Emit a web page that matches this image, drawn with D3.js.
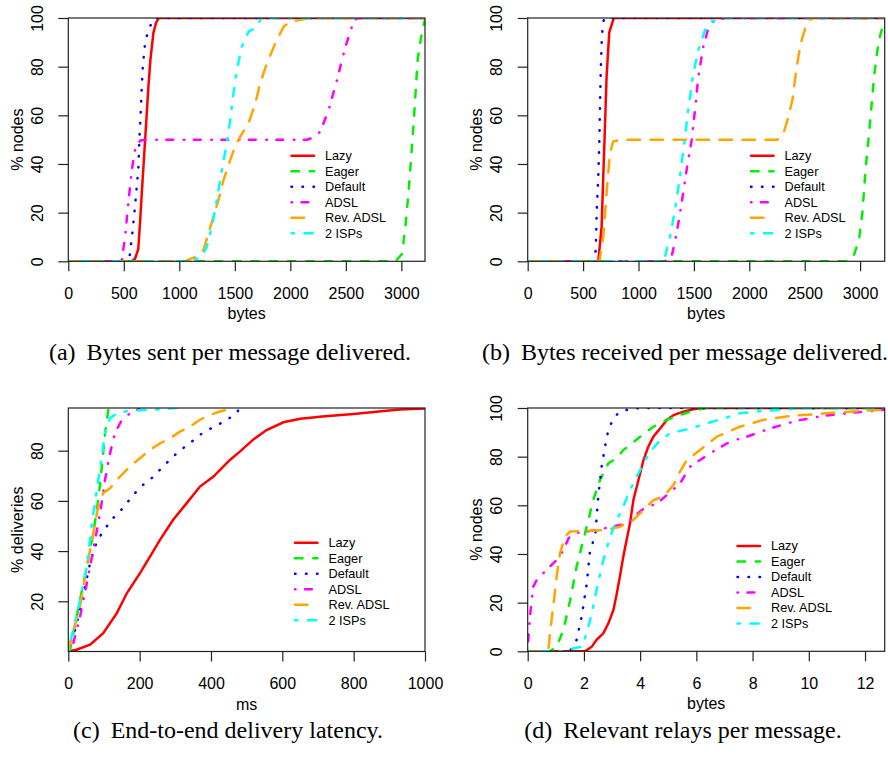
<!DOCTYPE html>
<html>
<head>
<meta charset="utf-8">
<script src="https://cdn.jsdelivr.net/npm/d3@7"></script>
<style>
  body { margin: 0; background: #fff; }
  svg text { font-family: "Liberation Sans", Arial, Helvetica, sans-serif; fill: #000; }
  svg text.caption { font-family: "Liberation Serif", "Times New Roman", serif; }
</style>
</head>
<body>
<svg id="chart" width="888" height="757"></svg>
<script>
// series order used by every panel
const seriesNames = ["Lazy", "Eager", "Default", "ADSL", "Rev. ADSL", "2 ISPs"];

// (a) bytes sent per message delivered, [bytes, % nodes]
const sentLazy = [[0,0],[570,0],[600,1],[630,5],[645,15],[662,28],[692,50],[722,72],[740,83],[767,94],[790,98],[815,100],[3220,100]];
const sentEager = [[0,0],[2946,0],[3006,3],[3036,14],[3066,29],[3087,42],[3111,57],[3129,70],[3147,83],[3177,92],[3213,99.5]];
const sentDefault = [[0,0],[530,0],[550,1],[580,13],[610,27],[632,39],[640,50],[652,61],[662,72],[671,80],[692,90],[722,95],[761,99],[780,100],[3220,100]];
const sentAdsl = [[0,0],[481,0],[511,10],[541,24],[572,37.5],[601,45.7],[647,49.6],[700,50],[2149,50],[2220,51],[2269,53.3],[2344,62],[2420,74.5],[2495,88],[2564,97.8],[2600,100],[3220,100]];
const sentRevAdsl = [[0,0],[1052,0],[1100,1],[1158,1.9],[1217,4.6],[1262,11.5],[1307,18.3],[1353,25.2],[1398,33.4],[1458,41.6],[1503,47.1],[1548,51.2],[1623,56.7],[1684,64.9],[1729,73.2],[1789,81.4],[1864,89.6],[1939,96.4],[1999,98.5],[2119,99.5],[2200,100],[3220,100]];
const sentIsps = [[0,0],[1007,0],[1127,0.5],[1203,1.9],[1248,6],[1293,14.2],[1338,25.2],[1383,37.5],[1428,48.5],[1458,58],[1488,69],[1518,78.6],[1563,88.2],[1623,94.4],[1684,95.8],[1729,99.2],[1744,100],[3220,100]];

// (b) bytes received per message delivered
const recvLazy = [[0,0],[637,0],[667,14],[682,35],[697,55],[712,76],[736,94],[773,99.5],[780,100],[3230,100]];
const recvEager = [[0,0],[2885,0],[2939,1.9],[2990,8.8],[3020,19.7],[3051,38.9],[3081,52.6],[3102,63.6],[3126,75.9],[3156,86.8],[3186,93.7],[3222,99.2]];
const recvDefault = [[0,0],[607,0],[616,7.4],[623,21],[637,34.8],[646,48.5],[652,62.2],[658,75.9],[667,89.6],[676,96.4],[688,99.5],[692,100],[3230,100]];
const recvAdsl = [[0,0],[1239,0],[1299,1.9],[1344,11.5],[1389,23.8],[1434,37.5],[1480,49.9],[1510,62.2],[1540,75.9],[1585,88.2],[1630,95.8],[1675,98.5],[1735,99.5],[1780,100],[3230,100]];
const recvRevAdsl = [[0,0],[647,0],[682,10],[712,28],[742,44.4],[772,49.2],[832,50],[2253,50],[2290,51.5],[2313,53.3],[2344,58],[2389,66.3],[2428,80],[2464,89.6],[2509,96.4],[2554,99.6],[2580,100],[3230,100]];
const recvIsps = [[0,0],[1179,0],[1239,1.9],[1284,10],[1329,21],[1374,34.8],[1413,48.5],[1449,62.2],[1489,75.9],[1540,86.8],[1600,95],[1660,98.5],[1720,99.6],[1750,100],[3230,100]];

// (c) end-to-end delivery latency, [ms, % deliveries]
const latLazy = [[0,0],[23,0.7],[61,2.7],[98,7.3],[136,15.3],[164,23.2],[201,31.2],[229,37.8],[257,44.5],[294,52.5],[332,59.1],[369,65.7],[407,69.7],[453,76.3],[481,79.6],[519,84.5],[556,88.2],[603,91.3],[650,92.7],[720,93.7],[800,94.6],[870,95.6],[930,96.4],[1000,96.8]];
const latEager = [[0,0],[5,0.7],[33,20.6],[52,33.8],[70,47.1],[84,60.4],[94,73.7],[103,87],[112,96.2],[116,97]];
const latDefault = [[0,0],[5,3.3],[19,8.6],[33,16.6],[47,25.9],[61,35.2],[75,41.9],[89,45.9],[108,49.9],[126,53.2],[145,55.8],[168,59.8],[187,63.1],[210,66.4],[229,68.4],[252,71.7],[275,75],[299,78.3],[322,81],[346,83.6],[369,86.3],[392,88.3],[420,90.3],[444,92.3],[472,94.9],[480,97]];
const latAdsl = [[0,0],[14,3.3],[33,13.9],[52,27.2],[70,40.5],[89,55],[103,68.4],[117,79],[131,87],[150,92.3],[173,94.9],[190,96],[200,97]];
const latRevAdsl = [[0,0],[5,3.3],[33,18],[52,33.8],[70,47.1],[84,57.8],[98,63.1],[117,65],[145,69.7],[173,73.7],[201,77],[229,80.3],[257,82.9],[285,84.9],[313,87.6],[341,89.6],[369,92.3],[397,94.3],[425,95.6],[453,96.6],[463,97]];
const latIsps = [[0,0],[5,3.3],[33,20.6],[52,33.8],[65,49.8],[80,64.4],[94,77.7],[103,87],[117,92.9],[136,94.9],[164,95.7],[210,96.2],[260,96.5],[304,97]];

// (d) relevant relays per message, [relays, % nodes]
const relayLazy = [[0,0],[2.04,0],[2.28,1.9],[2.45,4.7],[2.69,7.4],[2.87,11.5],[3.05,17],[3.17,23.8],[3.28,30.7],[3.4,38.9],[3.52,45.8],[3.64,52.6],[3.76,62.2],[3.94,70.4],[4.12,78.6],[4.29,84.1],[4.47,88.2],[4.71,91.6],[4.95,95.1],[5.19,97.1],[5.54,98.5],[5.89,99.5],[6.2,100],[12.7,100]];
const relayEager = [[0,0],[0.8,0],[1.03,1.9],[1.27,8.8],[1.51,21],[1.74,34.8],[1.98,45.8],[2.16,54],[2.33,62.2],[2.57,70.4],[2.87,77.3],[3.17,79.3],[3.4,82.7],[3.64,84.8],[4,88.2],[4.47,92.3],[4.95,95.1],[5.42,97.1],[5.89,98.9],[6.13,99.5],[6.4,100],[12.7,100]];
const relayDefault = [[0,0],[1.5,0],[1.74,4.7],[1.92,14.2],[2.1,27.9],[2.22,41.6],[2.4,47.5],[2.42,50],[2.51,63.6],[2.63,75.9],[2.75,84.1],[2.87,91],[3.05,95.8],[3.28,98.5],[3.64,99.5],[4,100],[12.7,100]];
const relayAdsl = [[0,0],[0.02,4.7],[0.08,14.2],[0.14,21],[0.2,26.6],[0.38,30.7],[0.62,32.7],[0.85,35.5],[1.09,38.2],[1.27,41.6],[1.45,46.4],[1.62,48.5],[2.1,49.2],[2.7,50.5],[3.28,51.9],[3.6,52.5],[3.78,55.3],[4.14,58.8],[4.61,60.8],[5.09,65.6],[5.42,69],[5.78,75.9],[6.49,81.4],[7.2,86.2],[7.79,88.2],[8.62,91.6],[9.57,94.8],[10.5,96.7],[11.6,98.1],[12.7,99.3]];
const relayRevAdsl = [[0,0],[0.68,0],[0.75,1.9],[0.79,7.4],[0.91,18.4],[1.03,30.7],[1.15,40.3],[1.33,47.1],[1.51,49.2],[2.1,49.5],[2.81,49.9],[3.28,51.2],[3.76,54],[4.12,58.1],[4.48,62.2],[4.83,63.6],[5.19,68.4],[5.42,73.9],[5.66,78.6],[6.13,82.7],[6.72,88.2],[7.55,92.3],[8.38,95.1],[9.33,96.7],[10.6,97.8],[11.7,98.7],[12.7,99.4]];
const relayIsps = [[0,0],[1.27,0],[1.62,1.2],[1.92,1.9],[2.1,7.4],[2.28,15.6],[2.45,25.2],[2.69,37.5],[2.93,47.1],[3.17,54],[3.4,59.5],[3.64,66.3],[3.94,73.2],[4.18,78.6],[4.41,82.7],[4.71,86.8],[5.07,89.6],[5.42,90.6],[5.78,91.5],[6.37,93.7],[6.96,95.7],[7.55,97.8],[8.38,98.8],[9.33,99.5],[10,100],[12.7,100]];

// tick labels
const bytesTicks = [0, 500, 1000, 1500, 2000, 2500, 3000];
const pctTicks = [0, 20, 40, 60, 80, 100];
const msTicks = [0, 200, 400, 600, 800, 1000];
const deliveryTicks = [20, 40, 60, 80];
const relayTicks = [0, 2, 4, 6, 8, 10, 12];

// R colours and lty patterns (solid, dashed, dotted, dotdash, longdash, twodash)
const colors = ["#ff0000", "#00f000", "#0000ff", "#ff00ff", "#ffa500", "#00ffff"];
const dashes = [null, "7.5 10.8", "0.5 10.5", "0.5 9.5 6.8 10.7", "12.5 10.5", "2.5 10.5 8.2 10.5"];

const svg = d3.select("#chart");

function drawPanel(p) {
  const x = d3.scaleLinear().domain(p.xDomain).range([p.left, p.right]);
  const y = d3.scaleLinear().domain(p.yDomain).range([p.bottom, p.top]);

  const g = svg.append("g");

  g.append("clipPath")
    .attr("id", "clip-" + p.id)
    .append("rect")
    .attr("x", p.left)
    .attr("y", p.top)
    .attr("width", p.right - p.left)
    .attr("height", p.bottom - p.top);

  const line = d3.line()
    .x(d => x(d[0]))
    .y(d => y(d[1]));

  // curves
  g.append("g")
    .attr("clip-path", `url(#clip-${p.id})`)
    .selectAll("path")
    .data(p.series)
    .enter()
    .append("path")
    .attr("d", line)
    .attr("fill", "none")
    .attr("stroke", (d, i) => colors[i])
    .attr("stroke-width", 2.5)
    .attr("stroke-linecap", "round")
    .attr("stroke-dasharray", (d, i) => dashes[i]);

  // box
  g.append("rect")
    .attr("x", p.left)
    .attr("y", p.top)
    .attr("width", p.right - p.left)
    .attr("height", p.bottom - p.top)
    .attr("fill", "none")
    .attr("stroke", "#222")
    .attr("stroke-width", 1.2);

  // Axes
  const xAxis = g.append("g")
    .attr("transform", `translate(0,${p.bottom})`)
    .call(d3.axisBottom(x).tickValues(p.xTicks).tickSize(10).tickPadding(0).tickFormat(d3.format("d")));
  xAxis.select(".domain").remove();
  xAxis.selectAll(".tick line").attr("stroke", "#222").attr("stroke-width", 1.2);
  xAxis.selectAll(".tick text")
    .attr("y", 32)
    .attr("dy", "0.35em")
    .attr("font-size", 16)
    .attr("font-family", null);

  const yAxis = g.append("g")
    .attr("transform", `translate(${p.left},0)`)
    .call(d3.axisLeft(y).tickValues(p.yTicks).tickSize(10).tickFormat(d3.format("d")));
  yAxis.select(".domain").remove();
  yAxis.selectAll(".tick line").attr("stroke", "#222").attr("stroke-width", 1.2);
  yAxis.selectAll(".tick text")
    .attr("x", null)
    .attr("font-size", 16)
    .attr("font-family", null)
    .attr("text-anchor", "middle")
    .attr("transform", "translate(-31,0) rotate(-90)")
    .attr("y", 0)
    .attr("dy", "0.35em");

  // axis titles
  g.append("text")
    .attr("x", (p.left + p.right) / 2)
    .attr("y", p.bottom + 58)
    .attr("text-anchor", "middle")
    .attr("font-size", 16)
    .text(p.xLabel);

  g.append("text")
    .attr("transform", `translate(${p.left - 51},${(p.top + p.bottom) / 2}) rotate(-90)`)
    .attr("dy", "0.35em")
    .attr("text-anchor", "middle")
    .attr("font-size", 16)
    .text(p.yLabel);

  // legend
  const legend = g.append("g")
    .attr("transform", `translate(${p.legendX},${p.legendY})`);
  const rows = legend.selectAll("g")
    .data(seriesNames)
    .enter()
    .append("g")
    .attr("transform", (d, i) => `translate(0,${i * 15.5})`);
  rows.append("line")
    .attr("x1", 1.5)
    .attr("x2", 24)
    .attr("stroke", (d, i) => colors[i])
    .attr("stroke-width", 2.5)
    .attr("stroke-linecap", "round")
    .attr("stroke-dasharray", (d, i) => dashes[i]);
  rows.append("text")
    .attr("x", 35)
    .attr("dy", "0.35em")
    .attr("font-size", 12.7)
    .text(d => d);

  // caption
  const cap = svg.append("text")
    .attr("class", "caption")
    .attr("x", p.captionX)
    .attr("y", p.captionY)
    .attr("text-anchor", "middle")
    .attr("font-size", 24);
  cap.append("tspan").text(p.captionTag);
  cap.append("tspan").attr("dx", 11).text(p.caption);
}

drawPanel({
  id: "a", left: 68.3, right: 425, top: 18, bottom: 261.3,
  xDomain: [0, 3213], yDomain: [0, 100],
  xTicks: bytesTicks, yTicks: pctTicks,
  xLabel: "bytes", yLabel: "% nodes",
  series: [sentLazy, sentEager, sentDefault, sentAdsl, sentRevAdsl, sentIsps],
  legendX: 290, legendY: 155.7,
  captionTag: "(a)", caption: "Bytes sent per message delivered.", captionX: 230, captionY: 360
});

drawPanel({
  id: "b", left: 527.7, right: 884.7, top: 18, bottom: 261.3,
  xDomain: [0, 3222], yDomain: [0, 100],
  xTicks: bytesTicks, yTicks: pctTicks,
  xLabel: "bytes", yLabel: "% nodes",
  series: [recvLazy, recvEager, recvDefault, recvAdsl, recvRevAdsl, recvIsps],
  legendX: 749.5, legendY: 155.7,
  captionTag: "(b)", caption: "Bytes received per message delivered.", captionX: 685, captionY: 360
});

drawPanel({
  id: "c", left: 68.3, right: 425, top: 408, bottom: 651.5,
  xDomain: [0, 1000], yDomain: [0, 97],
  xTicks: msTicks, yTicks: deliveryTicks,
  xLabel: "ms", yLabel: "% deliveries",
  series: [latLazy, latEager, latDefault, latAdsl, latRevAdsl, latIsps],
  legendX: 293.5, legendY: 542.7,
  captionTag: "(c)", caption: "End-to-end delivery latency.", captionX: 228, captionY: 738
});

drawPanel({
  id: "d", left: 527.7, right: 884.7, top: 408, bottom: 651.3,
  xDomain: [0, 12.7], yDomain: [0, 100],
  xTicks: relayTicks, yTicks: pctTicks,
  xLabel: "bytes", yLabel: "% nodes",
  series: [relayLazy, relayEager, relayDefault, relayAdsl, relayRevAdsl, relayIsps],
  legendX: 736, legendY: 546,
  captionTag: "(d)", caption: "Relevant relays per message.", captionX: 683, captionY: 738
});
</script>
</body>
</html>
